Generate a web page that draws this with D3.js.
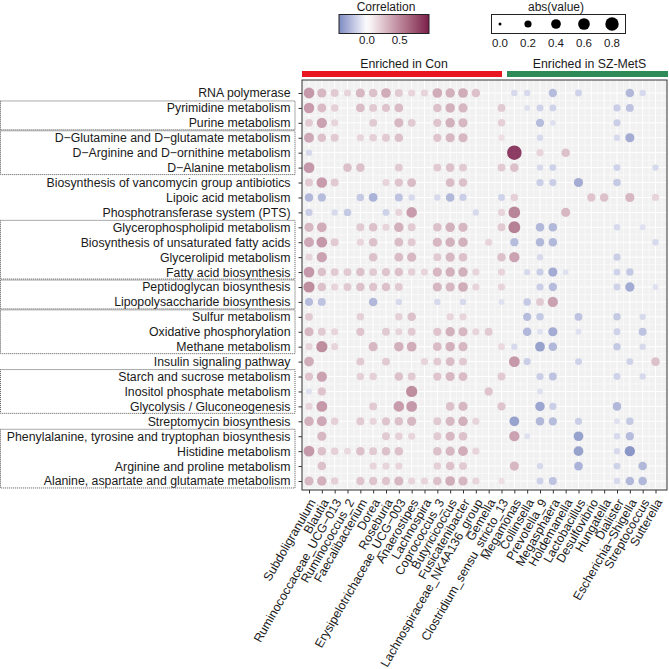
<!DOCTYPE html>
<html>
<head>
<meta charset="utf-8">
<script src="https://cdn.jsdelivr.net/npm/d3@7"></script>
<style>
  body { margin: 0; background: #fff; }
  text { font-family: "Liberation Sans", Arial, sans-serif; fill: #1a1a1a; }
</style>
</head>
<body>
<div id="chart"></div>
<script>

// genera (x axis), first 16 enriched in Con, last 12 in SZ-MetS
const genera = ["Subdoligranulum", "Blautia", "Ruminococcaceae_UCG\u2212013", "Ruminococcus_2",
	"Faecalibacterium", "Dorea", "Roseburia", "Erysipelotrichaceae_UCG\u2212003", "Anaerostipes",
	"Lachnospira", "Coprococcus_3", "Butyricicoccus", "Fusicatenibacter",
	"Lachnospiraceae_NK4A136_group", "Gemella", "Clostridium_sensu_stricto_13",
	"Megamonas", "Collinsella", "Prevotella_9", "Megasphaera", "Holdemanella", "Lactobacillus",
	"Desulfovibrio", "Hungatella", "Dialister", "Escherichia\u2212Shigella", "Streptococcus", "Sutterella"];

const enriched = [
	{label: "Enriched in Con", from: 0, to: 15, color: "#e8161e"},
	{label: "Enriched in SZ-MetS", from: 16, to: 27, color: "#2e8b57"}
];

const pathways = ["RNA polymerase", "Pyrimidine metabolism", "Purine metabolism",
	"D\u2212Glutamine and D\u2212glutamate metabolism", "D\u2212Arginine and D\u2212ornithine metabolism",
	"D\u2212Alanine metabolism", "Biosynthesis of vancomycin group antibiotics", "Lipoic acid metabolism",
	"Phosphotransferase system (PTS)", "Glycerophospholipid metabolism",
	"Biosynthesis of unsaturated fatty acids", "Glycerolipid metabolism", "Fatty acid biosynthesis",
	"Peptidoglycan biosynthesis", "Lipopolysaccharide biosynthesis", "Sulfur metabolism",
	"Oxidative phosphorylation", "Methane metabolism", "Insulin signaling pathway",
	"Starch and sucrose metabolism", "Inositol phosphate metabolism", "Glycolysis / Gluconeogenesis",
	"Streptomycin biosynthesis", "Phenylalanine, tyrosine and tryptophan biosynthesis",
	"Histidine metabolism", "Arginine and proline metabolism", "Alanine, aspartate and glutamate metabolism"];

// dotted boxes on the left: first and last pathway index of each group
const boxes = [[1, 2], [3, 5], [9, 12], [13, 14], [15, 17], [19, 21], [23, 26]];

// correlation, one row per pathway, one value per genus (0 = not shown)
const corr = [
	[0.5,0.35,0.25,0.2,0.35,0.3,0.4,0.25,0.2,0.2,0.4,0.38,0.4,0.3, 0,0,-0.15,-0.15,0,-0.28,0,-0.18,0,0,0,-0.3,-0.15,0],
	[0.48,0.33,0.22,0,0.32,0.25,0.28,0.32,0,0,0.3,0.38,0.35,0, 0,0.25,0,-0.12,-0.18,-0.18,0,0,0,0,-0.2,-0.25,0,0],
	[0.25,0.45,0.2,0,0,0.25,0,0.35,0.25,0,0.28,0.38,0.35,0, 0,0.22,0,0,-0.28,-0.12,0,0,0,0,-0.2,0,0,0],
	[0.42,0.3,0.25,0,0.2,0.22,0.25,0.3,0,0,0.28,0.35,0.35,0, 0,0.15,0,0,-0.15,0,0,0,0,0,-0.15,-0.35,0,0],
	[-0.15,0,0,0,0,0,0,0,0,0,0,0,0,0, 0,0,0.95,0,0.2,0,0.3,0,0,0,0,0,0,0],
	[0.5,0,0,0.3,0.3,0,0,0.25,0,0,0.25,0.3,0.25,0, 0,0.25,0.3,0,-0.15,-0.18,0,0,0,0,-0.18,0,0,-0.15],
	[0.25,0.48,0.25,0,0,0,0.2,0.28,0.32,0,0,0.32,0.3,0, 0,0,0,0,-0.2,-0.2,0,-0.35,0,0,-0.22,0,0,0],
	[-0.3,-0.28,0,0,-0.22,-0.32,0,-0.25,-0.15,0,-0.15,-0.3,-0.2,0, 0,-0.18,0.22,0,0,0,0,0,0.28,0.3,0,0.35,0,0.2],
	[-0.2,0,-0.15,-0.22,0,0,-0.18,0.2,0.48,0,0,0,0,-0.15, 0,0.2,0.6,0,0,0,0.35,0,0,0,0,0,0,0],
	[0.35,0.4,0,0,0.25,0.3,0.2,0.38,0.25,0,0.3,0.38,0.35,0, 0,0.25,0.62,0,-0.3,-0.3,0,0,0,0,-0.15,0,-0.12,0],
	[0.42,0.5,0.25,0,0.2,0.3,0,0.32,0.25,0,0.35,0.38,0.38,0, 0.2,0,-0.28,0,-0.3,-0.3,0,0,0,0,0,0,0,-0.15],
	[0.2,0.45,0,0,0,0.3,0,0.32,0.35,0,0.25,0.35,0.3,0, 0,0.3,0.45,0,-0.15,0,0,0,0,0,-0.2,0,0,0],
	[0.5,0.3,0.25,0.25,0.3,0.25,0.28,0.3,0.22,0.2,0.35,0.38,0.38,0.2, 0,0.2,0,-0.15,-0.2,-0.35,-0.12,0,0,0,-0.18,-0.22,0,0],
	[0.55,0.3,0.2,0.25,0.3,0.28,0.3,0.25,0,0,0.35,0.35,0.4,0.2, 0,0.2,0,0,-0.2,-0.28,0,0,0,0,-0.18,-0.36,0,-0.12],
	[-0.28,-0.25,0,0,0,-0.3,0,-0.15,0,0,-0.15,0,-0.15,0, 0,-0.12,0,-0.22,0.25,0.45,0,0,0,0,0,0,0,0],
	[0.25,0,0,0,0.22,0,0,0.22,0.3,0,0,0.2,0.2,0, 0,0,0,-0.28,-0.22,0,0,-0.25,0,0,-0.22,0,-0.15,0],
	[0.35,0.25,0.2,0,0.28,0,0.25,0.2,0.25,0,0.28,0.38,0.35,0.2, 0.25,0,0,-0.3,-0.12,-0.35,0,-0.12,0,0,-0.18,0,-0.25,0],
	[0.2,0.55,0.2,0,0,0.35,0,0.38,0.4,0,0.32,0.38,0.35,0, 0,0.18,-0.15,0,-0.4,-0.3,0,0,0,0,-0.22,0,-0.15,0],
	[0.4,0,0,0,0.25,0,0.25,0,0,0.2,0.25,0.32,0.25,0, 0,0,0.5,-0.2,0,0,0,-0.18,0,0,0,-0.18,0,0.3],
	[0.28,0.45,0,0,0.22,0.22,0,0.3,0.25,0,0.28,0.35,0.32,0, 0,0.25,0,0,-0.2,-0.25,0,0,0,0,-0.18,0,-0.15,0],
	[-0.12,0.28,0,0,0,0,0,0,0.55,0,0,0,0,0, 0.28,0,0,0,-0.12,0,0,0,0,0,0,0,0,0],
	[0.2,0.5,0,0,0,0.25,0,0.48,0.5,0,0,0.3,0.35,0, 0,0.28,0,0,-0.38,-0.2,0,0,0,0,-0.3,0,0,0],
	[0.38,0.42,0.22,0,0.25,0.2,0.28,0.3,0.35,0,0.25,0.35,0.38,0.2, 0,0,-0.4,0,-0.3,-0.28,0,-0.2,0,0,-0.12,-0.22,0,0],
	[0,0.35,0,0,0,0,0.25,0.22,0.2,0,0.25,0.35,0.3,0, 0,0,0.45,-0.12,0,0,0,-0.4,0,0,-0.15,-0.28,0,0],
	[0.5,0.3,0.22,0.18,0.3,0.25,0.3,0.3,0,0,0.3,0.35,0.4,0.2, 0,0,0,0,0,0,0,-0.4,0,0,-0.15,-0.45,0,0],
	[0,0.3,0,0,0,0.2,0.2,0.2,0,0,0.22,0.3,0.25,0, 0,0,0.35,0,-0.15,0,0,-0.32,0,0,-0.18,0,-0.3,0],
	[0.35,0.38,0.22,0,0.28,0.28,0.28,0.35,0.2,0.2,0.3,0.4,0.35,0.2, 0,0.15,0,0,-0.18,-0.25,0,0,0,0,-0.15,-0.3,-0.3,0]
];

const colorTicks = [0, 0.5];
const sizeTicks = [0, 0.2, 0.4, 0.6, 0.8];


const width = 669;
const height = 669;

let svg = d3.select("#chart")
	.append("svg")
	.attr("width", width)
	.attr("height", height);

// panel
const pLeft = 302, pRight = 667, pTop = 80, pBottom = 490;

let x = d3.scalePoint().domain(genera).range([309, 655.5]);
let y = d3.scalePoint().domain(pathways).range([93, 481]);
const sx = x.step(), sy = y.step();

let color = d3.scaleLinear()
	.domain([-0.43, 0, 0.95])
	.range(["#7d8bc2", "#ffffff", "#7a1c4a"])
	.interpolate(d3.interpolateLab);

let radius = d3.scaleRadial().domain([0, 0.8]).range([1.5, 6.7]);

svg.append("rect")
	.attr("x", pLeft).attr("y", pTop)
	.attr("width", pRight - pLeft).attr("height", pBottom - pTop)
	.attr("fill", "#f1f1f1");

let grid = svg.append("g").attr("stroke", "#ffffff");

genera.forEach((g, i) => {
	grid.append("line")
		.attr("x1", x(g)).attr("x2", x(g))
		.attr("y1", pTop).attr("y2", pBottom)
		.attr("stroke-width", 1);
	grid.append("line")
		.attr("x1", x(g) + sx / 2).attr("x2", x(g) + sx / 2)
		.attr("y1", pTop).attr("y2", pBottom)
		.attr("stroke-width", 0.5);
});
pathways.forEach((p, i) => {
	grid.append("line")
		.attr("x1", pLeft).attr("x2", pRight)
		.attr("y1", y(p)).attr("y2", y(p))
		.attr("stroke-width", 1);
	grid.append("line")
		.attr("x1", pLeft).attr("x2", pRight)
		.attr("y1", y(p) + sy / 2).attr("y2", y(p) + sy / 2)
		.attr("stroke-width", 0.5);
});

// dots
let cells = [];
corr.forEach((row, i) => {
	row.forEach((v, j) => {
		if (v !== 0) cells.push({p: pathways[i], g: genera[j], v: v});
	});
});

svg.append("g")
	.selectAll("circle")
	.data(cells)
	.join("circle")
	.attr("cx", d => x(d.g))
	.attr("cy", d => y(d.p))
	.attr("r", d => radius(Math.abs(d.v)))
	.attr("fill", d => color(d.v))
	.attr("fill-opacity", 0.85);

// border
svg.append("rect")
	.attr("x", pLeft).attr("y", pTop)
	.attr("width", pRight - pLeft).attr("height", pBottom - pTop)
	.attr("fill", "none")
	.attr("stroke", "#333")
	.attr("stroke-width", 1);

// axes
let yAxis = svg.append("g")
	.attr("transform", `translate(${pLeft},0)`)
	.call(d3.axisLeft(y).tickSize(3.5).tickPadding(8));
yAxis.select(".domain").remove();
yAxis.selectAll("line").attr("stroke", "#333");
yAxis.selectAll("text")
	.style("font-size", "12.3px")
	.attr("fill", "#1a1a1a");

let xAxis = svg.append("g")
	.attr("transform", `translate(0,${pBottom})`)
	.call(d3.axisBottom(x).tickSize(3.5));
xAxis.select(".domain").remove();
xAxis.selectAll("line").attr("stroke", "#333");
xAxis.selectAll("text")
	.style("font-size", "12.3px")
	.attr("fill", "#1a1a1a")
	.attr("text-anchor", "end")
	.attr("y", 0)
	.attr("dy", "0.35em")
	.attr("transform", "translate(3,10) rotate(-60)");

// dotted group boxes
svg.append("g")
	.selectAll("rect")
	.data(boxes)
	.join("rect")
	.attr("x", 0.5)
	.attr("y", d => y(pathways[d[0]]) - sy / 2 + 0.5)
	.attr("width", 294.5)
	.attr("height", d => y(pathways[d[1]]) - y(pathways[d[0]]) + sy - 1)
	.attr("fill", "none")
	.attr("stroke", "#555")
	.attr("stroke-width", 1)
	.attr("stroke-dasharray", "1,1");

// enrichment bars
let bars = svg.append("g");
enriched.forEach((e, i) => {
	let x0 = i === 0 ? pLeft : x(genera[e.from - 1]) + 5.5;
	let x1 = i === 0 ? x(genera[e.to]) + 0.5 : pRight + 1;
	bars.append("rect")
		.attr("x", x0).attr("y", 71)
		.attr("width", x1 - x0).attr("height", 6)
		.attr("fill", e.color);
	bars.append("text")
		.attr("x", (x0 + x1) / 2 + 2)
		.attr("y", 67.5)
		.attr("text-anchor", "middle")
		.style("font-size", "12.3px")
		.text(e.label);
});

// colour legend
let cLeg = svg.append("g");
let cx = d3.scaleLinear().domain([-0.43, 0.95]).range([339, 429]);

let grad = svg.append("defs").append("linearGradient")
	.attr("id", "corr-grad");
d3.range(0, 1.0001, 0.05).forEach(t => {
	grad.append("stop")
		.attr("offset", t)
		.attr("stop-color", color(cx.invert(339 + t * 90)));
});

cLeg.append("rect")
	.attr("x", 339).attr("y", 14.5)
	.attr("width", 90).attr("height", 19)
	.attr("fill", "url(#corr-grad)")
	.attr("stroke", "#222")
	.attr("stroke-width", 1);

cLeg.append("text")
	.attr("x", 386).attr("y", 10.5)
	.attr("text-anchor", "middle")
	.style("font-size", "12px")
	.text("Correlation");

cLeg.selectAll(".ctick")
	.data(colorTicks)
	.join("text")
	.attr("class", "ctick")
	.attr("x", d => cx(d))
	.attr("y", 44)
	.attr("text-anchor", "middle")
	.style("font-size", "11.5px")
	.attr("fill", "#333")
	.text(d => d3.format(".1f")(d));

// size legend
let sLeg = svg.append("g");
let lx = d3.scalePoint().domain(sizeTicks).range([500, 612]);

sLeg.append("rect")
	.attr("x", 491.5).attr("y", 14.5)
	.attr("width", 134).attr("height", 19)
	.attr("fill", "#fff")
	.attr("stroke", "#222")
	.attr("stroke-width", 1);

sLeg.append("text")
	.attr("x", 556).attr("y", 10.5)
	.attr("text-anchor", "middle")
	.style("font-size", "12px")
	.text("abs(value)");

sLeg.selectAll("circle")
	.data(sizeTicks)
	.join("circle")
	.attr("cx", d => lx(d))
	.attr("cy", 24)
	.attr("r", d => radius(d))
	.attr("fill", "#000");

sLeg.selectAll(".stick")
	.data(sizeTicks)
	.join("text")
	.attr("class", "stick")
	.attr("x", d => lx(d))
	.attr("y", 46.5)
	.attr("text-anchor", "middle")
	.style("font-size", "11.5px")
	.attr("fill", "#333")
	.text(d => d3.format(".1f")(d));

</script>
</body>
</html>
